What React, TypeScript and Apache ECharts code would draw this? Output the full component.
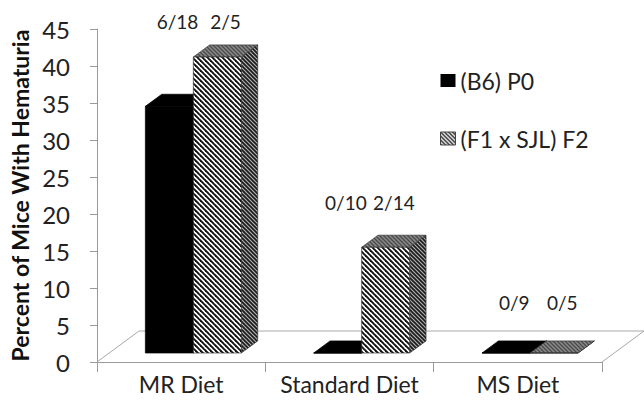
import React, { useEffect, useRef } from "react";
import * as echarts from "echarts";

// Diet groups and mouse counts (affected / total) for each cross
const categories = ["MR Diet", "Standard Diet", "MS Diet"];
const seriesNames = ["(B6) P0", "(F1 x SJL) F2"];
const b6Affected = [6, 0, 0];
const b6Total = [18, 10, 9];
const f2Affected = [2, 2, 0];
const f2Total = [5, 14, 5];

const yMin = 0;
const yMax = 45;
const yInterval = 5;

const FONT = "Lato, 'Open Sans', sans-serif";

// Oblique 3D projection of the floor and the bars (pixels)
const FLOOR_DX = 42;
const FLOOR_DY = -31;
const BAR_FRONT = 0.29; // depth fraction where the bar front sits
const BAR_DEPTH = 0.39; // depth fraction occupied by a bar
const BAR_FRAC = 0.285; // bar width as share of a category band
// Where each group's fraction labels sit, in axis units on the front plane
const labelLevels = [46.0, 21.5, 8.0];

function pct(a: number[], t: number[]) {
  return a.map((v, i) => (v / t[i]) * 100);
}

function stripePattern(size: number, bg: string, fg: string, lw: number) {
  const c = document.createElement("canvas");
  c.width = size;
  c.height = size;
  const ctx = c.getContext("2d")!;
  ctx.fillStyle = bg;
  ctx.fillRect(0, 0, size, size);
  ctx.strokeStyle = fg;
  ctx.lineWidth = lw;
  for (const k of [-1, 0, 1]) {
    ctx.beginPath();
    ctx.moveTo(k * size - 1, -1);
    ctx.lineTo(k * size + size + 1, size + 1);
    ctx.stroke();
  }
  return {
    image: c.toDataURL(),
    repeat: "repeat",
    imageWidth: size,
    imageHeight: size,
  } as any;
}

export default function App() {
  const ref = useRef<HTMLDivElement>(null);

  useEffect(() => {
    if (!ref.current) return;
    const chart = echarts.init(ref.current, undefined, { renderer: "svg" });

    const b6Values = pct(b6Affected, b6Total);
    const f2Values = pct(f2Affected, f2Total);
    const b6Labels = b6Affected.map((a, i) => `${a}/${b6Total[i]}`);
    const f2Labels = f2Affected.map((a, i) => `${a}/${f2Total[i]}`);

    const frontHatch = stripePattern(5, "#ffffff", "#111111", 1.9);
    const sideHatch = stripePattern(4, "#b0b0b0", "#1a1a1a", 1.6);
    const topHatch = stripePattern(4, "#8a8a8a", "#4a4a4a", 1.3);
    const legendHatch = stripePattern(4, "#ffffff", "#222222", 1.4);

    const fills = [
      { front: "#000", top: "#000", side: "#000", stroke: "#000" },
      { front: frontHatch, top: topHatch, side: sideHatch, stroke: "#333" },
    ];
    const labels = [b6Labels, f2Labels];

    const barRender = (si: number) => (params: any, api: any) => {
      const idx = api.value(0);
      const v = api.value(1);
      const [cx, y0] = api.coord([idx, 0]);
      const yTop = api.coord([idx, v])[1];
      const band = api.size([1, 0])[0];
      const w = band * BAR_FRAC;
      const x0 = si === 0 ? cx - w : cx;
      const x1 = x0 + w;
      const fx = FLOOR_DX * BAR_FRONT;
      const fy = FLOOR_DY * BAR_FRONT;
      const dx = FLOOR_DX * BAR_DEPTH;
      const dy = FLOOR_DY * BAR_DEPTH;
      const f = fills[si];
      const y10 = api.coord([idx, 10])[1];
      const yLab = y0 + ((y10 - y0) * labelLevels[idx]) / 10;
      const base = y0 + fy;
      const top = yTop + fy;
      return {
        type: "group",
        children: [
          {
            type: "polygon",
            shape: {
              points: [
                [x1 + fx, top],
                [x1 + fx + dx, top + dy],
                [x1 + fx + dx, base + dy],
                [x1 + fx, base],
              ],
            },
            style: { fill: f.side, stroke: f.stroke, lineWidth: 0.7 },
          },
          {
            type: "polygon",
            shape: {
              points: [
                [x0 + fx, top],
                [x1 + fx, top],
                [x1 + fx + dx, top + dy],
                [x0 + fx + dx, top + dy],
              ],
            },
            style: { fill: f.top, stroke: f.stroke, lineWidth: 0.7 },
          },
          {
            type: "polygon",
            shape: {
              points: [
                [x0 + fx, top],
                [x1 + fx, top],
                [x1 + fx, base],
                [x0 + fx, base],
              ],
            },
            style: { fill: f.front, stroke: f.stroke, lineWidth: 0.7 },
          },
          {
            type: "text",
            x: (x0 + x1) / 2 + fx + dx / 2,
            y: yLab,
            style: {
              text: labels[si][idx],
              fill: "#222",
              font: `19px ${FONT}`,
              align: "center",
              verticalAlign: "middle",
            },
          },
        ],
      };
    };

    chart.setOption({
      animation: false,
      backgroundColor: "#ffffff",
      textStyle: { fontFamily: FONT },
      grid: { left: 97, right: 42, top: 29, bottom: 40, containLabel: false },
      legend: {
        orient: "vertical",
        left: 435,
        top: 64,
        itemWidth: 15,
        itemHeight: 13,
        itemGap: 35,
        icon: "rect",
        textStyle: { fontSize: 23, color: "#222", fontFamily: FONT },
        data: [
          { name: seriesNames[0], itemStyle: { color: "#000" } },
          {
            name: seriesNames[1],
            itemStyle: { color: legendHatch, borderColor: "#444", borderWidth: 1 },
          },
        ],
      },
      xAxis: {
        type: "category",
        data: categories,
        boundaryGap: true,
        axisLine: { show: true, lineStyle: { color: "#9a9a9a", width: 1 } },
        axisTick: { show: true, length: 10, lineStyle: { color: "#9a9a9a" } },
        axisLabel: {
          interval: 0,
          hideOverlap: false,
          fontSize: 23,
          color: "#222",
          margin: 10,
          fontFamily: FONT,
        },
      },
      yAxis: {
        type: "value",
        min: yMin,
        max: yMax,
        interval: yInterval,
        name: "Percent of Mice With Hematuria",
        nameLocation: "middle",
        nameRotate: 90,
        nameGap: 66,
        nameTextStyle: { fontSize: 23, fontWeight: "bold", color: "#111", fontFamily: FONT },
        axisLine: { show: true, lineStyle: { color: "#9a9a9a", width: 1 } },
        axisTick: { show: true, length: 7, inside: false, lineStyle: { color: "#9a9a9a" } },
        axisLabel: { fontSize: 24, color: "#222", margin: 27, fontFamily: FONT },
        splitLine: { show: false },
      },
      series: [
        {
          type: "custom",
          name: "floor",
          silent: true,
          z: 1,
          data: [[0, 0]],
          renderItem: (params: any) => {
            const cs = params.coordSys;
            const xl = cs.x;
            const xr = cs.x + cs.width;
            const yb = cs.y + cs.height;
            return {
              type: "polyline",
              shape: {
                points: [
                  [xl, yb],
                  [xl + FLOOR_DX, yb + FLOOR_DY],
                  [xr + FLOOR_DX, yb + FLOOR_DY],
                  [xr, yb],
                ],
              },
              style: { fill: "none", stroke: "#a8a8a8", lineWidth: 1 },
            };
          },
        },
        {
          type: "custom",
          name: seriesNames[0],
          z: 2,
          itemStyle: { color: "#000" },
          data: b6Values.map((v, i) => [i, v]),
          renderItem: barRender(0),
        },
        {
          type: "custom",
          name: seriesNames[1],
          z: 3,
          itemStyle: { color: legendHatch },
          data: f2Values.map((v, i) => [i, v]),
          renderItem: barRender(1),
        },
      ],
    });

    return () => chart.dispose();
  }, []);

  return (
    <div
      ref={ref}
      style={{ position: "absolute", left: 0, top: 0, width: 644, height: 402 }}
    />
  );
}
